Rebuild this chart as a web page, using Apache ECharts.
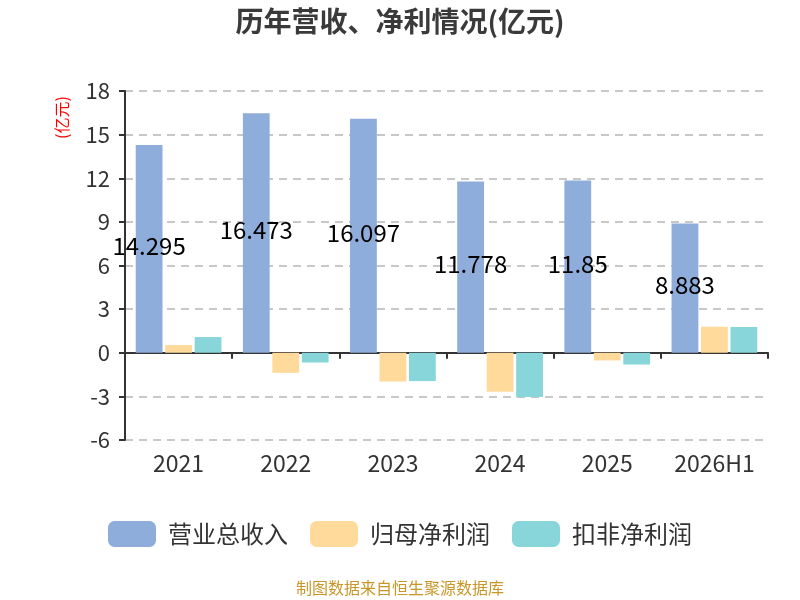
<!DOCTYPE html>
<html>
<head>
<meta charset="utf-8">
<script src="https://cdn.jsdelivr.net/npm/echarts@6/dist/echarts.min.js"></script>
<style>
  html, body { margin: 0; padding: 0; background: #fff; }
  #main { width: 800px; height: 600px; }
</style>
</head>
<body>
<div id="main"></div>
<script>
var categories = ['2021', '2022', '2023', '2024', '2025', '2026H1'];
var revenue = [14.295, 16.473, 16.097, 11.778, 11.85, 8.883];
var netProfit = [0.53, -1.38, -1.98, -2.69, -0.53, 1.79];
var deductedProfit = [1.08, -0.67, -1.95, -3.05, -0.81, 1.77];
var seriesNames = ['营业总收入', '归母净利润', '扣非净利润'];
var colors = ['#8EADDA', '#FFDA9B', '#88D6D9'];

var font = 'Noto Sans CJK SC';

function getOpt() {
  var opt = {
    textStyle: { fontFamily: font },
    title: {
      text: '历年营收、净利情况(亿元)',
      left: 'center',
      top: 2,
      textStyle: { color: '#3a3a3a', fontWeight: 'bold', fontSize: 28, fontFamily: font }
    },
    legend: {
      data: seriesNames,
      bottom: 48,
      left: 'center',
      icon: 'roundRect',
      itemWidth: 48,
      itemHeight: 26,
      itemGap: 22,
      textStyle: { fontSize: 24, color: '#333', fontFamily: font, padding: [0, 0, 0, 7] }
    },
    grid: { left: 125, right: 32, top: 91, bottom: 160 },
    graphic: [{
      type: 'text',
      left: 'center',
      bottom: 4,
      style: { text: '制图数据来自恒生聚源数据库', fill: '#C8972A', fontSize: 16, fontFamily: font }
    }, {
      type: 'text',
      x: 54,
      y: 139,
      rotation: Math.PI / 2,
      style: { text: '(亿元)', fill: '#ff0000', fontSize: 16, fontFamily: font }
    }],
    xAxis: [{
      type: 'category',
      data: categories,
      axisLine: { onZero: true, lineStyle: { color: '#333', width: 2 } },
      axisTick: { show: true, length: 6, lineStyle: { color: '#333', width: 2 } },
      axisLabel: { show: false }
    }, {
      type: 'category',
      data: categories,
      position: 'bottom',
      axisLine: { show: false, onZero: false },
      axisTick: { show: false },
      axisLabel: { interval: 0, fontSize: 23, color: '#333', margin: 12, fontFamily: font }
    }],
    yAxis: {
      type: 'value',
      min: -6,
      max: 18,
      interval: 3,
      axisLine: { show: true, lineStyle: { color: '#333', width: 2 } },
      axisTick: { show: true, length: 6, lineStyle: { color: '#333', width: 2 } },
      axisLabel: { fontSize: 22, color: '#333', margin: 15, fontFamily: font },
      splitLine: { lineStyle: { color: '#c8c8c8', type: [8, 6], width: 2 } }
    },
    series: [{
      name: seriesNames[0],
      type: 'bar',
      data: revenue,
      barGap: '10%',
      barCategoryGap: '20%',
      itemStyle: { color: colors[0] },
      label: {
        show: true,
        position: 'inside',
        offset: [0, -3],
        color: '#000',
        fontSize: 24,
        fontFamily: font
      }
    }, {
      name: seriesNames[1],
      type: 'bar',
      data: netProfit,
      barGap: '10%',
      barCategoryGap: '20%',
      itemStyle: { color: colors[1] }
    }, {
      name: seriesNames[2],
      type: 'bar',
      data: deductedProfit,
      barGap: '10%',
      barCategoryGap: '20%',
      itemStyle: { color: colors[2] }
    }]
  };
  return opt;
}

var chart = echarts.init(document.getElementById('main'));
chart.setOption(getOpt());
</script>
</body>
</html>
